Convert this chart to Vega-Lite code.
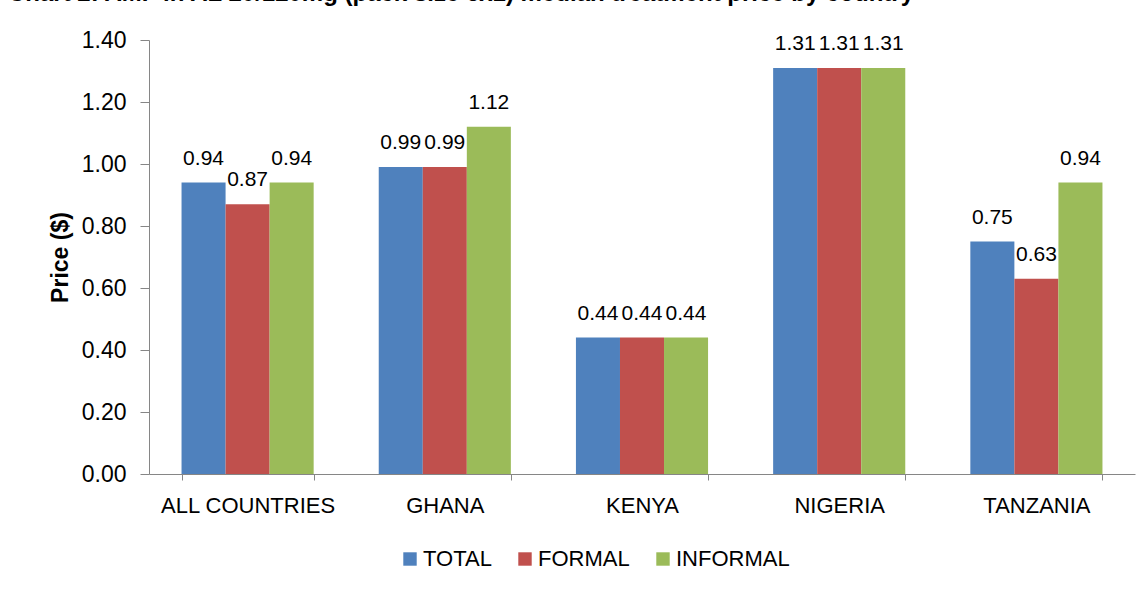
{
  "$schema": "https://vega.github.io/schema/vega-lite/v6.json",
  "autosize": {"type": "none"},
  "width": 986,
  "height": 434,
  "padding": {"left": 149, "top": 40, "right": 10, "bottom": 120},
  "background": "white",
  "title": {
    "text": "Chart 2: AMF in AL 20/120mg (pack size 6x1) median treatment price by country",
    "anchor": "start",
    "frame": "group",
    "font": "Liberation Sans",
    "fontSize": 24,
    "fontWeight": "bold",
    "color": "#000000",
    "baseline": "alphabetic",
    "offset": 0,
    "dx": -141,
    "dy": -4
  },
  "data": {
    "values": [
      {"country": "ALL COUNTRIES", "type": "TOTAL", "price": 0.94},
      {"country": "ALL COUNTRIES", "type": "FORMAL", "price": 0.87},
      {"country": "ALL COUNTRIES", "type": "INFORMAL", "price": 0.94},
      {"country": "GHANA", "type": "TOTAL", "price": 0.99},
      {"country": "GHANA", "type": "FORMAL", "price": 0.99},
      {"country": "GHANA", "type": "INFORMAL", "price": 1.12},
      {"country": "KENYA", "type": "TOTAL", "price": 0.44},
      {"country": "KENYA", "type": "FORMAL", "price": 0.44},
      {"country": "KENYA", "type": "INFORMAL", "price": 0.44},
      {"country": "NIGERIA", "type": "TOTAL", "price": 1.31},
      {"country": "NIGERIA", "type": "FORMAL", "price": 1.31},
      {"country": "NIGERIA", "type": "INFORMAL", "price": 1.31},
      {"country": "TANZANIA", "type": "TOTAL", "price": 0.75},
      {"country": "TANZANIA", "type": "FORMAL", "price": 0.63},
      {"country": "TANZANIA", "type": "INFORMAL", "price": 0.94}
    ]
  },
  "encoding": {
    "x": {
      "field": "country",
      "type": "nominal",
      "sort": null,
      "scale": {"paddingInner": 0.33, "paddingOuter": 0.165},
      "axis": {
        "title": null,
        "labelAngle": 0,
        "labelFont": "Liberation Sans",
        "labelFontSize": 22,
        "labelColor": "#000000",
        "labelPadding": 15,
        "domainColor": "#868686",
        "tickColor": "#868686",
        "tickSize": 6,
        "tickBand": "extent",
        "grid": false
      }
    },
    "xOffset": {
      "field": "type",
      "sort": ["TOTAL", "FORMAL", "INFORMAL"],
      "scale": {"paddingInner": 0, "paddingOuter": 0}
    },
    "y": {
      "field": "price",
      "type": "quantitative",
      "scale": {"domain": [0, 1.4], "nice": false},
      "axis": {
        "title": "Price ($)",
        "titleFont": "Liberation Sans",
        "titleFontSize": 23,
        "titleFontWeight": "bold",
        "titleColor": "#000000",
        "titlePadding": 9,
        "values": [0, 0.2, 0.4, 0.6, 0.8, 1.0, 1.2, 1.4],
        "format": ".2f",
        "labelFont": "Liberation Sans",
        "labelFontSize": 23,
        "labelColor": "#000000",
        "labelPadding": 14,
        "domainColor": "#868686",
        "tickColor": "#868686",
        "tickSize": 9,
        "grid": false
      }
    }
  },
  "layer": [
    {
      "mark": {"type": "bar"},
      "encoding": {
        "color": {
          "field": "type",
          "type": "nominal",
          "sort": ["TOTAL", "FORMAL", "INFORMAL"],
          "scale": {"domain": ["TOTAL", "FORMAL", "INFORMAL"], "range": ["#4F81BD", "#C0504D", "#9BBB59"]},
          "legend": {
            "title": null,
            "orient": "none",
            "legendX": 250,
            "legendY": 508,
            "direction": "horizontal",
            "symbolType": "square",
            "symbolSize": 180,
            "symbolStrokeWidth": 0,
            "labelFont": "Liberation Sans",
            "labelFontSize": 22,
            "labelColor": "#000000",
            "labelOffset": 2,
            "columnPadding": 22
          }
        }
      }
    },
    {
      "mark": {"type": "text", "baseline": "bottom", "dy": -14, "font": "Liberation Sans", "fontSize": 21, "color": "#000000"},
      "encoding": {"text": {"field": "price", "type": "quantitative", "format": ".2f"}}
    }
  ],
  "config": {"view": {"stroke": null}}
}
